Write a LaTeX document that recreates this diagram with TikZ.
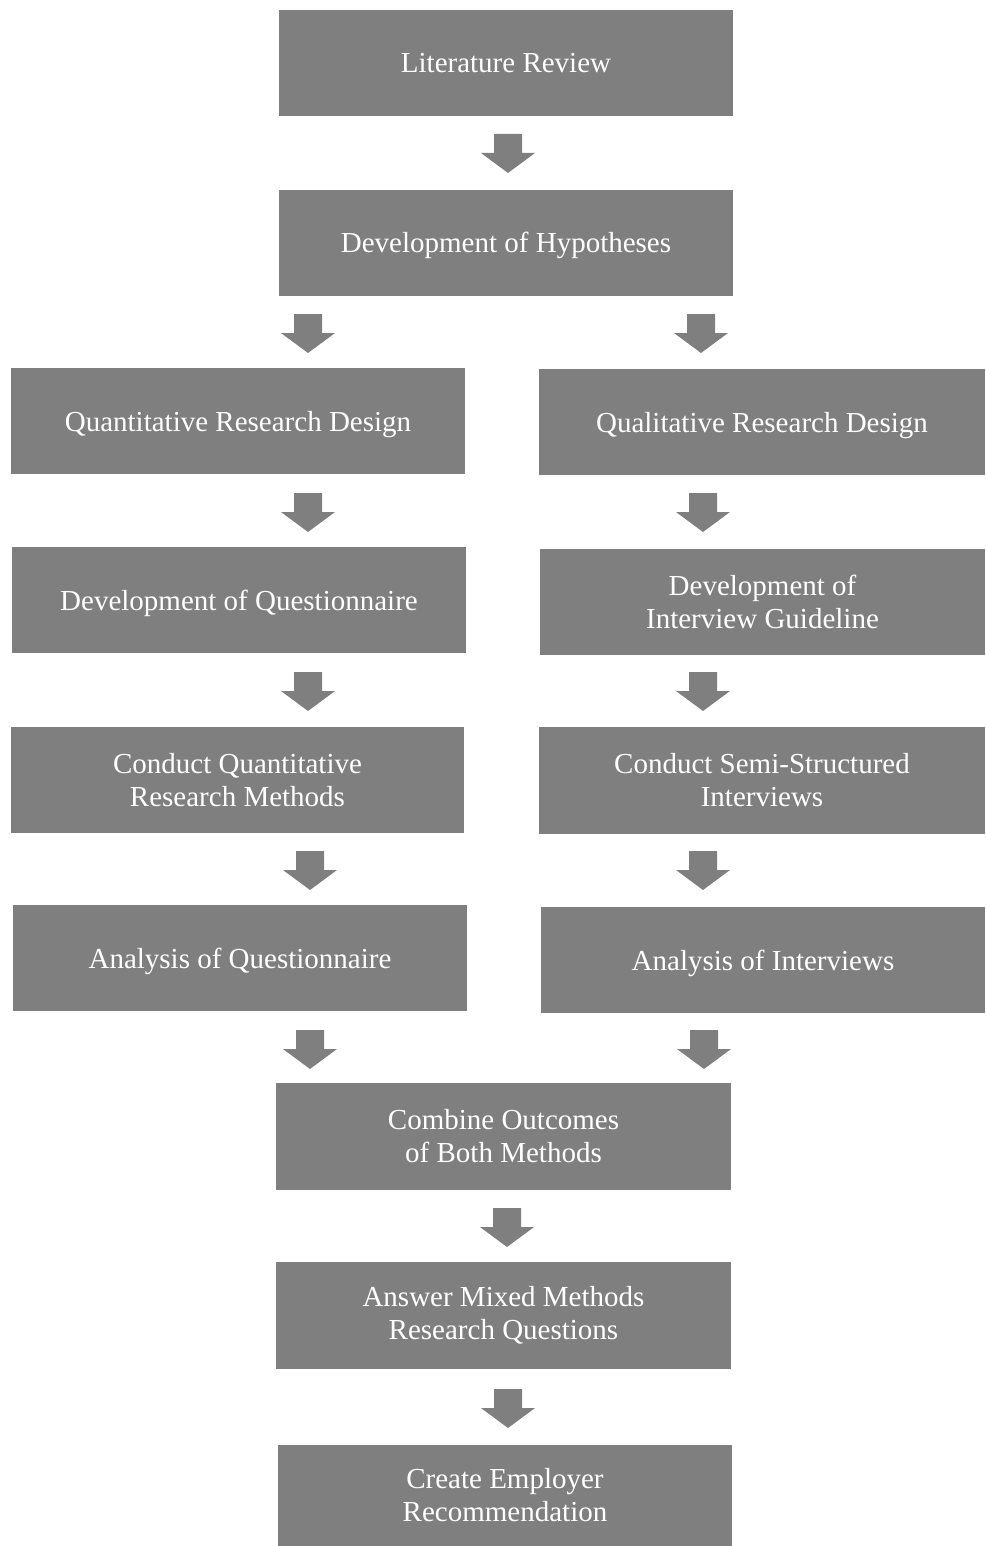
\documentclass[tikz,border=0pt]{standalone}
\usepackage{fontspec}
\setmainfont{Liberation Serif}
\usetikzlibrary{calc}
\definecolor{boxgray}{HTML}{7F7F7F}
\tikzset{
  box/.style={fill=boxgray, draw=none, inner sep=0pt, align=center,
    text=white, font=\fontsize{29}{33}\selectfont, minimum height=106pt},
  oneline/.style={text height=26pt, text depth=6pt},
}
\newcommand{\blockarrow}[1]{%
  \fill[boxgray] ($(#1)+(-14,0)$) -- ($(#1)+(14,0)$) -- ($(#1)+(14,19)$)
    -- ($(#1)+(27,19)$) -- ($(#1)+(0,39)$) -- ($(#1)+(-27,19)$)
    -- ($(#1)+(-14,19)$) -- cycle;}
\begin{document}
\begin{tikzpicture}[x=1pt,y=-1pt]
\useasboundingbox (0,0) rectangle (985,1546);
\node[box, oneline, minimum width=454pt] (lit) at (506,63) {Literature Review};
\node[box, oneline, minimum width=454pt] (hyp) at (506,243) {Development of Hypotheses};
\node[box, oneline, minimum width=454pt] (quant) at (238,421) {Quantitative Research Design};
\node[box, oneline, minimum width=446pt] (qual) at (762,422) {Qualitative Research Design};
\node[box, oneline, minimum width=454pt] (devq) at (239,600) {Development of Questionnaire};
\node[box, minimum width=445pt] (devi) at (762.5,602) {Development of\\Interview Guideline};
\node[box, minimum width=453pt] (condq) at (237.5,780) {Conduct Quantitative\\Research Methods};
\node[box, minimum width=446pt, minimum height=107pt] (condi) at (762,780.5) {Conduct Semi-Structured\\Interviews};
\node[box, oneline, minimum width=454pt] (anq) at (240,958) {Analysis of Questionnaire};
\node[box, oneline, minimum width=444pt] (ani) at (763,960) {Analysis of Interviews};
\node[box, minimum width=455pt, minimum height=107pt] (comb) at (503.5,1136.5) {Combine Outcomes\\of Both Methods};
\node[box, minimum width=455pt, minimum height=107pt] (ans) at (503.5,1315.5) {Answer Mixed Methods\\Research Questions};
\node[box, minimum width=454pt, minimum height=101pt] (crea) at (505,1495.5) {Create Employer\\Recommendation};
\coordinate (a1) at (508,134);
\coordinate (a2l) at (308,314);
\coordinate (a2r) at (701,314);
\coordinate (a3l) at (308,493);
\coordinate (a3r) at (703,493);
\coordinate (a4l) at (308,672);
\coordinate (a4r) at (703,672);
\coordinate (a5l) at (310,851);
\coordinate (a5r) at (703,851);
\coordinate (a6l) at (310,1030);
\coordinate (a6r) at (704,1030);
\coordinate (a7) at (507,1208);
\coordinate (a8) at (508,1389);
\foreach \a in {a1,a2l,a2r,a3l,a3r,a4l,a4r,a5l,a5r,a6l,a6r,a7,a8}{\blockarrow{\a}}
\end{tikzpicture}
\end{document}
